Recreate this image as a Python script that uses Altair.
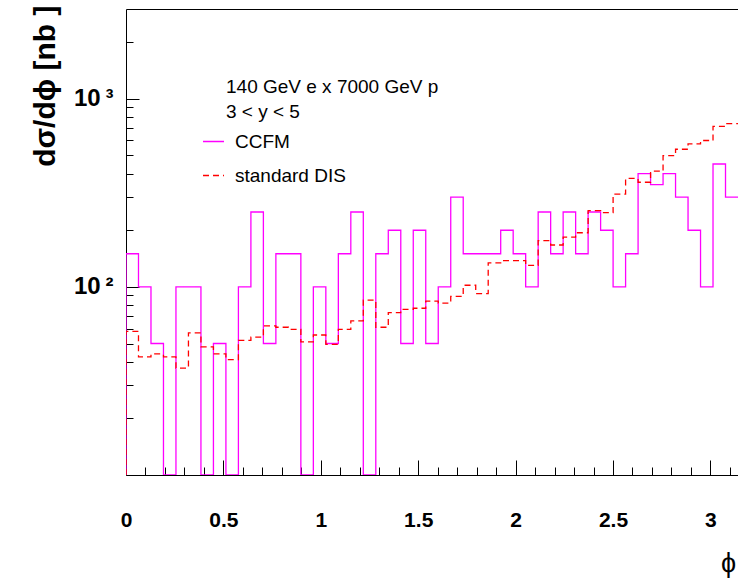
import math
import altair as alt
import pandas as pd

# ---------------- data ----------------
N_BINS = 49
PHI_MAX = math.pi
series_names = ["CCFM", "standard DIS"]
series_colors = ["#ff00ff", "#ff0000"]
ccfm = [150, 100, 50, 0, 100, 100, 0, 50, 0, 100, 250, 50, 150, 150, 0, 100,
        50, 150, 250, 0, 150, 200, 50, 200, 50, 100, 300, 150, 150, 150, 200,
        150, 100, 250, 150, 250, 150, 250, 200, 100, 150, 400, 350, 400, 300,
        200, 100, 450, 300]
dis = [58, 42.5, 44, 42.5, 37, 57, 48, 44, 41, 52, 54, 62, 61, 59.5, 51, 55.5,
       49.5, 59.5, 66, 85, 61, 73, 76, 77, 84, 82, 89, 102, 92, 134, 138, 138,
       130, 176, 167, 184, 194, 254, 248, 311, 377, 360, 412, 499, 539, 576,
       600, 714, 738]
x_label_values = [0, 0.5, 1, 1.5, 2, 2.5, 3]
x_minor_values = [0.1, 0.2, 0.3, 0.4, 0.6, 0.7, 0.8, 0.9, 1.1, 1.2, 1.3, 1.4,
                  1.6, 1.7, 1.8, 1.9, 2.1, 2.2, 2.3, 2.4, 2.6, 2.7, 2.8, 2.9,
                  3.1]
y_major_values = [100, 1000]
y_minor_values = [20, 30, 40, 50, 60, 70, 80, 90,
                  200, 300, 400, 500, 600, 700, 800, 900, 2000]
annotation_lines = ["140 GeV e x 7000 GeV p", "3 < y < 5"]

bin_w = PHI_MAX / N_BINS
rows = []
for name, vals in zip(series_names, [ccfm, dis]):
    rows.append({"series": name, "phi": 0.0, "value": 0, "idx": 0})
    for k, v in enumerate(vals):
        rows.append({"series": name, "phi": k * bin_w, "value": v, "idx": k + 1})
    rows.append({"series": name, "phi": PHI_MAX, "value": vals[-1], "idx": len(vals) + 1})
df = pd.DataFrame(rows)

FONT = "Liberation Sans"
xs = alt.Scale(domain=[0, PHI_MAX], nice=False, zero=False)
ys = alt.Scale(type="log", domain=[10, 3000], nice=False, clamp=True)

base = alt.Chart(df).transform_calculate(plot_value="max(datum.value, 10)")

legend = alt.Legend(
    orient="none", legendX=76, legendY=121, title=None, symbolType="stroke",
    symbolSize=441, symbolStrokeWidth=1.3, labelFont=FONT, labelFontSize=19,
    labelColor="black", labelOffset=10, rowPadding=12, padding=0,
)

lines = base.mark_line(interpolate="step-after", strokeWidth=1.3, clip=True).encode(
    x=alt.X("phi:Q", scale=xs, axis=alt.Axis(
        orient="bottom", values=x_label_values, format="~g", ticks=False, tickSize=0,
        labelPadding=34, labelFont=FONT, labelFontSize=21, labelFontWeight="bold",
        labelColor="black", labelBaseline="top", labelFlush=False, labelAlign="center",
        domain=True, domainColor="black",
        domainWidth=1, grid=False, title="ϕ", titleX=602, titleY=88,
        titleFont=FONT, titleFontSize=27, titleFontWeight="normal",
        titleColor="black", titleAlign="center", titleBaseline="middle")),
    y=alt.Y("plot_value:Q", scale=ys, axis=alt.Axis(
        orient="left", values=y_major_values,
        labelExpr="datum.value == 100 ? '10\u2009²' : '10\u2009³'",
        ticks=False, tickSize=0, labelPadding=13, labelFont=FONT, labelFontSize=24,
        labelFontWeight="bold", labelColor="black", labelFlush=False,
        domain=True, domainColor="black",
        grid=False, title="dσ/dϕ [nb ]", titleX=-81, titleY=-4, titleAngle=270,
        titleAlign="right", titleBaseline="middle", titleFont=FONT, titleFontSize=30,
        titleFontWeight="bold", titleColor="black")),
    color=alt.Color("series:N", scale=alt.Scale(domain=series_names, range=series_colors),
                    legend=legend),
    strokeDash=alt.StrokeDash("series:N", scale=alt.Scale(domain=series_names,
                                                          range=[[1, 0], [6, 4]]),
                              legend=legend),
    order=alt.Order("idx:Q"),
)


def tick_layer(xvals, xsize, yvals, ysize):
    return base.mark_point(opacity=0).encode(
        x=alt.X("phi:Q", scale=xs, axis=alt.Axis(
            orient="bottom", values=xvals, offset=-xsize, tickSize=xsize,
            tickColor="black", labels=False, domain=False, grid=False, title=None)),
        y=alt.Y("plot_value:Q", scale=ys, axis=alt.Axis(
            orient="left", values=yvals, offset=-ysize, tickSize=ysize,
            tickColor="black", labels=False, domain=False, grid=False, title=None)),
    )


major = tick_layer(x_label_values, 15, y_major_values, 13)
minor = tick_layer(x_minor_values, 8, y_minor_values, 7)

top_frame = base.mark_point(opacity=0).encode(
    x=alt.X("phi:Q", scale=xs, axis=alt.Axis(
        orient="top", labels=False, ticks=False, domain=True, domainColor="black",
        grid=False, title=None)),
    y=alt.Y("plot_value:Q", scale=ys, axis=None),
)

ann_df = pd.DataFrame({"text": annotation_lines, "line": [0, 1]})
ann1 = alt.Chart(ann_df).transform_filter("datum.line == 0").mark_text(
    align="left", baseline="alphabetic", font=FONT, fontSize=19, color="black"
).encode(text="text:N", x=alt.value(100), y=alt.value(84))
ann2 = alt.Chart(ann_df).transform_filter("datum.line == 1").mark_text(
    align="left", baseline="alphabetic", font=FONT, fontSize=19, color="black"
).encode(text="text:N", x=alt.value(100), y=alt.value(109))

chart = alt.layer(lines, major, minor, top_frame, ann1, ann2).resolve_axis(
    x="independent", y="independent"
).properties(
    width=612, height=466,
    padding={"left": 126, "top": 9, "right": 0, "bottom": 104},
    autosize=alt.AutoSizeParams(type="none"),
    background="white",
).configure_view(stroke=None)

chart.save("out.html", embed_options={"renderer": "svg", "actions": False})
